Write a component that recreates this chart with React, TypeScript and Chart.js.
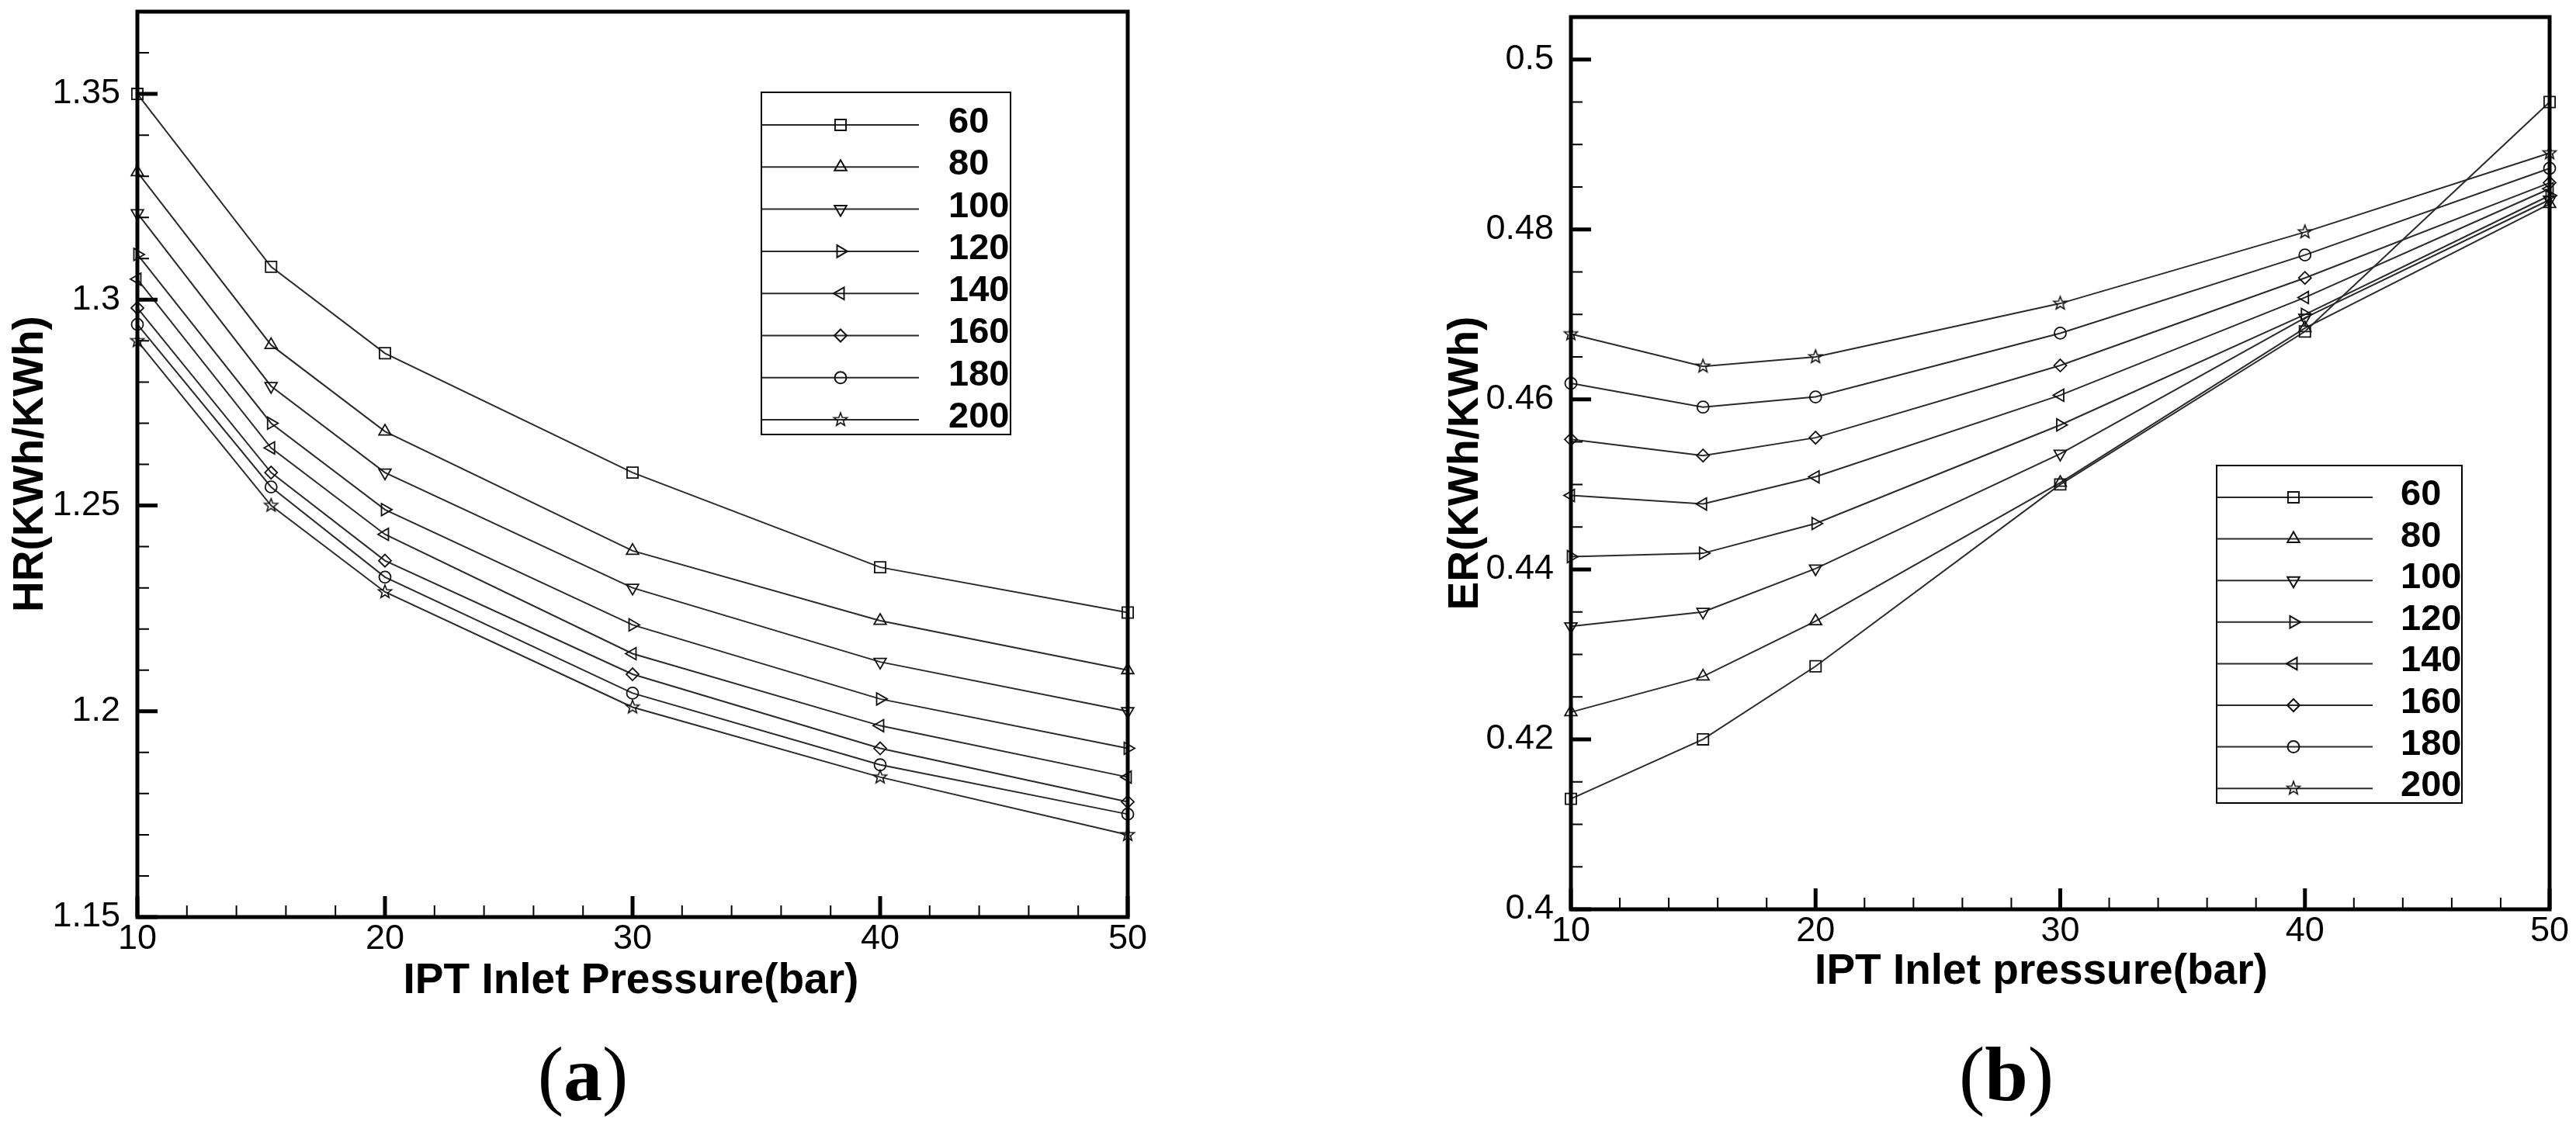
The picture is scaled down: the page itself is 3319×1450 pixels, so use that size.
import React, { useEffect, useRef } from "react";
import { Chart, registerables } from "chart.js";
import { drawPoint } from "chart.js/helpers";

Chart.register(...registerables);

// inlet pressure (bar) at which both panels were computed
const pressure = [10, 15.4, 20, 30, 40, 50];
const seriesLabels = ["60", "80", "100", "120", "140", "160", "180", "200"];

// heat rate, panel (a)
const hr60 = [1.35, 1.308, 1.287, 1.258, 1.235, 1.224];
const hr80 = [1.331, 1.289, 1.268, 1.239, 1.222, 1.21];
const hr100 = [1.321, 1.279, 1.258, 1.23, 1.212, 1.2];
const hr120 = [1.311, 1.27, 1.249, 1.221, 1.203, 1.191];
const hr140 = [1.305, 1.264, 1.243, 1.214, 1.1965, 1.184];
const hr160 = [1.298, 1.258, 1.2366, 1.209, 1.191, 1.178];
const hr180 = [1.294, 1.2545, 1.2326, 1.2044, 1.187, 1.175];
const hr200 = [1.29, 1.25, 1.229, 1.201, 1.184, 1.17];

// energy ratio, panel (b)
const er60 = [0.413, 0.42, 0.4286, 0.45, 0.468, 0.495];
const er80 = [0.4232, 0.4274, 0.4339, 0.4502, 0.4684, 0.483];
const er100 = [0.4333, 0.435, 0.4401, 0.4536, 0.4696, 0.4835];
const er120 = [0.4415, 0.4419, 0.4454, 0.457, 0.47, 0.484];
const er140 = [0.4487, 0.4477, 0.4509, 0.4605, 0.472, 0.4848];
const er160 = [0.4553, 0.4534, 0.4555, 0.464, 0.4743, 0.4855];
const er180 = [0.4619, 0.4591, 0.4603, 0.4678, 0.477, 0.4872];
const er200 = [0.4677, 0.4639, 0.465, 0.4713, 0.4797, 0.489];

const hrSeries = [hr60, hr80, hr100, hr120, hr140, hr160, hr180, hr200];
const erSeries = [er60, er80, er100, er120, er140, er160, er180, er200];

const xTicks = [10, 20, 30, 40, 50];
const hrTicks = [1.15, 1.2, 1.25, 1.3, 1.35];
const erTicks = [0.4, 0.42, 0.44, 0.46, 0.48, 0.5];

const SANS = '"Liberation Sans", Arial, sans-serif';
const SERIF = '"Liberation Serif", "Times New Roman", serif';
const INK = "#111";

// tecplot-like star symbol for the 200 series
function makeStar(): HTMLCanvasElement {
  const c = document.createElement("canvas");
  c.width = 22;
  c.height = 22;
  const g = c.getContext("2d")!;
  g.strokeStyle = INK;
  g.lineWidth = 1.6;
  g.beginPath();
  for (let i = 0; i < 10; i++) {
    const r = i % 2 === 0 ? 9 : 3.8;
    const a = -Math.PI / 2 + (i * Math.PI) / 5;
    const px = 11 + r * Math.cos(a);
    const py = 11 + r * Math.sin(a);
    if (i === 0) g.moveTo(px, py);
    else g.lineTo(px, py);
  }
  g.closePath();
  g.stroke();
  return c;
}
const star = makeStar();

const markers: { style: any; rotation: number; radius: number }[] = [
  { style: "rect", rotation: 0, radius: 10 },
  { style: "triangle", rotation: 0, radius: 9 },
  { style: "triangle", rotation: 180, radius: 9 },
  { style: "triangle", rotation: 90, radius: 9 },
  { style: "triangle", rotation: 270, radius: 9 },
  { style: "rectRot", rotation: 0, radius: 8 },
  { style: "circle", rotation: 0, radius: 7.5 },
  { style: star, rotation: 0, radius: 9 },
];

const ticksBetween = (min: number, max: number, step: number) => {
  const out: number[] = [];
  for (let i = 0; ; i++) {
    const v = min + i * step;
    if (v > max + step * 1e-6) break;
    out.push(v);
  }
  return out;
};

const decorPlugin = {
  id: "figureDecor",
  afterDraw(chart: any, _args: any, o: any) {
    const { ctx, chartArea: a } = chart;
    const xs = chart.scales.x;
    const ys = chart.scales.y;
    ctx.save();
    ctx.strokeStyle = "#000";
    ctx.fillStyle = "#000";

    // minor ticks, pointing inwards
    ctx.lineWidth = 2;
    ctx.beginPath();
    ticksBetween(o.yMin, o.yMax, o.yMinor).forEach((v) => {
      const p = ys.getPixelForValue(v);
      ctx.moveTo(a.left, p);
      ctx.lineTo(a.left + 15, p);
    });
    ticksBetween(o.xMin, o.xMax, o.xMinor).forEach((v) => {
      const p = xs.getPixelForValue(v);
      ctx.moveTo(p, a.bottom);
      ctx.lineTo(p, a.bottom - 15);
    });
    ctx.stroke();

    // major ticks
    ctx.lineWidth = 5;
    ctx.beginPath();
    o.yTicks.forEach((v: number) => {
      const p = ys.getPixelForValue(v);
      ctx.moveTo(a.left, p);
      ctx.lineTo(a.left + 26, p);
    });
    o.xTicks.forEach((v: number) => {
      const p = xs.getPixelForValue(v);
      ctx.moveTo(p, a.bottom);
      ctx.lineTo(p, a.bottom - 27);
    });
    ctx.stroke();

    // frame
    ctx.lineWidth = 5;
    ctx.strokeRect(a.left, a.top, a.right - a.left, a.bottom - a.top);

    // axis titles
    ctx.font = `bold 55px ${SANS}`;
    ctx.textAlign = "center";
    ctx.textBaseline = "alphabetic";
    ctx.fillText(o.xTitle, o.xTitleAt[0], o.xTitleAt[1]);
    ctx.save();
    ctx.translate(o.yTitleAt[0], o.yTitleAt[1]);
    ctx.rotate(-Math.PI / 2);
    ctx.textBaseline = "middle";
    ctx.fillText(o.yTitle, 0, 0);
    ctx.restore();

    // panel tag: thin parentheses, bold letter
    const [tx, tb] = o.tagAt;
    ctx.textAlign = "left";
    ctx.font = `100px ${SERIF}`;
    const wp = ctx.measureText("(").width;
    const wq = ctx.measureText(")").width;
    ctx.font = `bold 100px ${SERIF}`;
    const wl = ctx.measureText(o.tag).width;
    let cx = tx - (wp + wl + wq) / 2;
    ctx.font = `100px ${SERIF}`;
    ctx.fillText("(", cx, tb);
    cx += wp;
    ctx.font = `bold 100px ${SERIF}`;
    ctx.fillText(o.tag, cx, tb);
    cx += wl;
    ctx.font = `100px ${SERIF}`;
    ctx.fillText(")", cx, tb);

    // legend box
    const L = o.legend;
    ctx.fillStyle = "#fff";
    ctx.fillRect(L.left, L.top, L.right - L.left, L.bottom - L.top);
    ctx.lineWidth = 2;
    ctx.strokeStyle = "#000";
    ctx.strokeRect(L.left, L.top, L.right - L.left, L.bottom - L.top);
    chart.data.datasets.forEach((ds: any, i: number) => {
      const ry = L.rowY0 + i * L.rowStep;
      ctx.strokeStyle = "#2a2a2a";
      ctx.lineWidth = 2;
      ctx.beginPath();
      ctx.moveTo(L.left, ry);
      ctx.lineTo(L.lineEnd, ry);
      ctx.stroke();
      ctx.strokeStyle = INK;
      ctx.fillStyle = "rgba(255,255,255,0)";
      drawPoint(
        ctx,
        {
          pointStyle: ds.pointStyle,
          rotation: ds.pointRotation,
          radius: ds.pointRadius,
          borderWidth: ds.pointBorderWidth,
        } as any,
        L.markerX,
        ry
      );
      ctx.fillStyle = "#000";
      ctx.font = `bold 47px ${SANS}`;
      ctx.textAlign = "left";
      ctx.textBaseline = "middle";
      ctx.fillText(ds.label, L.textX, ry - 3);
    });
    ctx.restore();
  },
};

interface PanelProps {
  left: number;
  width: number;
  height: number;
  area: { left: number; top: number; right: number; bottom: number };
  series: number[][];
  yMin: number;
  yMax: number;
  yTicks: number[];
  yMinor: number;
  yTitle: string;
  xTitle: string;
  yTitleAt: [number, number];
  xTitleAt: [number, number];
  tag: string;
  tagAt: [number, number];
  legend: any;
}

const Y_AXIS_W = 160;
const X_AXIS_H = 100;

const Panel: React.FC<PanelProps> = (p) => {
  const canvasRef = useRef<HTMLCanvasElement | null>(null);
  const chartRef = useRef<Chart | null>(null);

  useEffect(() => {
    const ctx = canvasRef.current?.getContext("2d");
    if (!ctx) return;
    if (chartRef.current) chartRef.current.destroy();

    const fmt = (v: any) => String(Number(Number(v).toFixed(3)));

    chartRef.current = new Chart(ctx, {
      type: "line",
      data: {
        datasets: p.series.map((vals, i) => ({
          label: seriesLabels[i],
          data: pressure.map((x, j) => ({ x, y: vals[j] })),
          borderColor: "#2a2a2a",
          borderWidth: 2,
          tension: 0,
          pointStyle: markers[i].style,
          pointRotation: markers[i].rotation,
          pointRadius: markers[i].radius,
          pointBorderWidth: 1.8,
          pointBorderColor: INK,
          pointBackgroundColor: "rgba(255,255,255,0)",
          clip: false as any,
        })),
      },
      options: {
        responsive: false,
        animation: false,
        devicePixelRatio: 1,
        layout: {
          padding: {
            left: p.area.left - Y_AXIS_W,
            top: p.area.top,
            right: p.width - p.area.right,
            bottom: p.height - p.area.bottom - X_AXIS_H,
          },
        },
        scales: {
          x: {
            type: "linear",
            min: 10,
            max: 50,
            afterBuildTicks: (s: any) => {
              s.ticks = xTicks.map((value) => ({ value }));
            },
            afterFit: (s: any) => {
              s.height = X_AXIS_H;
              s.paddingLeft = 0;
              s.paddingRight = 0;
            },
            grid: { display: false, drawTicks: false },
            border: { display: false },
            ticks: {
              padding: 2,
              color: "#000",
              maxRotation: 0,
              autoSkip: false,
              font: { family: SANS, size: 45 },
              callback: fmt,
            },
          },
          y: {
            type: "linear",
            min: p.yMin,
            max: p.yMax,
            afterBuildTicks: (s: any) => {
              s.ticks = p.yTicks.map((value) => ({ value }));
            },
            afterFit: (s: any) => {
              s.width = Y_AXIS_W;
              s.paddingTop = 0;
              s.paddingBottom = 0;
            },
            grid: { display: false, drawTicks: false },
            border: { display: false },
            ticks: {
              padding: 22,
              color: "#000",
              autoSkip: false,
              font: { family: SANS, size: 45 },
              callback: fmt,
            },
          },
        },
        plugins: {
          legend: { display: false },
          tooltip: { enabled: false },
          figureDecor: {
            xMin: 10,
            xMax: 50,
            xMinor: 2,
            xTicks,
            yMin: p.yMin,
            yMax: p.yMax,
            yMinor: p.yMinor,
            yTicks: p.yTicks,
            xTitle: p.xTitle,
            yTitle: p.yTitle,
            xTitleAt: p.xTitleAt,
            yTitleAt: p.yTitleAt,
            tag: p.tag,
            tagAt: p.tagAt,
            legend: p.legend,
          },
        } as any,
      },
      plugins: [decorPlugin],
    });

    return () => {
      if (chartRef.current) {
        chartRef.current.destroy();
        chartRef.current = null;
      }
    };
  }, []);

  return (
    <canvas
      ref={canvasRef}
      width={p.width}
      height={p.height}
      style={{ position: "absolute", left: p.left, top: 0, display: "block" }}
    />
  );
};

const App: React.FC = () => {
  return (
    <div
      style={{
        position: "absolute",
        left: 0,
        top: 0,
        width: 3319,
        height: 1450,
        background: "#fff",
        overflow: "hidden",
      }}
    >
      <Panel
        left={0}
        width={1660}
        height={1450}
        area={{ left: 177, top: 15, right: 1453, bottom: 1182 }}
        series={hrSeries}
        yMin={1.15}
        yMax={1.37}
        yTicks={hrTicks}
        yMinor={0.01}
        yTitle="HR(KWh/KWh)"
        xTitle="IPT Inlet Pressure(bar)"
        yTitleAt={[40, 598]}
        xTitleAt={[813, 1280]}
        tag="a"
        tagAt={[751, 1418]}
        legend={{
          left: 981,
          top: 119,
          right: 1302,
          bottom: 560,
          rowY0: 161,
          rowStep: 54.3,
          lineEnd: 1184,
          markerX: 1083,
          textX: 1222,
        }}
      />
      <Panel
        left={1660}
        width={1659}
        height={1450}
        area={{ left: 364, top: 22, right: 1625, bottom: 1172 }}
        series={erSeries}
        yMin={0.4}
        yMax={0.505}
        yTicks={erTicks}
        yMinor={0.005}
        yTitle="ER(KWh/KWh)"
        xTitle="IPT Inlet pressure(bar)"
        yTitleAt={[229, 597]}
        xTitleAt={[970, 1268]}
        tag="b"
        tagAt={[925, 1418]}
        legend={{
          left: 1196,
          top: 600,
          right: 1512,
          bottom: 1035,
          rowY0: 641,
          rowStep: 53.6,
          lineEnd: 1397,
          markerX: 1295,
          textX: 1433,
        }}
      />
    </div>
  );
};

export default App;
